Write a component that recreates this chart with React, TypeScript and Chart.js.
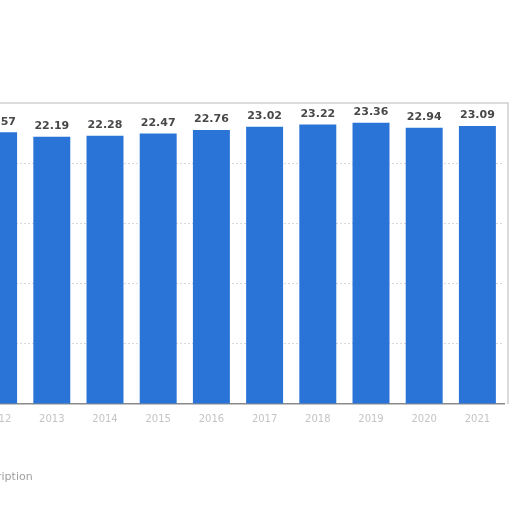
import React, { useEffect, useRef } from "react";
import Chart from "chart.js/auto";

const years = ["2012", "2013", "2014", "2015", "2016", "2017", "2018", "2019", "2020", "2021"];
const values = [22.57, 22.19, 22.28, 22.47, 22.76, 23.02, 23.22, 23.36, 22.94, 23.09];
const yTicks = [0, 5, 10, 15, 20, 25];

const labelPlugin = {
  id: "barLabels",
  afterDatasetsDraw(chart: any) {
    const ctx = chart.ctx;
    const meta = chart.getDatasetMeta(0);
    ctx.save();
    ctx.font = "bold 11px 'DejaVu Sans', Arial, sans-serif";
    ctx.fillStyle = "#484848";
    ctx.textAlign = "center";
    ctx.textBaseline = "bottom";
    meta.data.forEach((bar: any, i: number) => {
      ctx.fillText(values[i].toFixed(2), bar.x, bar.y - 5);
    });
    ctx.restore();
  },
};

const framePlugin = {
  id: "frame",
  beforeDatasetsDraw(chart: any) {
    const { ctx, chartArea } = chart;
    ctx.save();
    ctx.strokeStyle = "#cfcfcf";
    ctx.lineWidth = 1.5;
    ctx.beginPath();
    ctx.moveTo(chartArea.left, chartArea.top);
    ctx.lineTo(chartArea.right + 4, chartArea.top);
    ctx.lineTo(chartArea.right + 4, chartArea.bottom);
    ctx.stroke();
    ctx.restore();
  },
};

export default function App() {
  const ref = useRef<HTMLCanvasElement | null>(null);
  useEffect(() => {
    document.body.style.margin = "0";
    const chart = new Chart(ref.current as HTMLCanvasElement, {
      type: "bar",
      data: {
        labels: years,
        datasets: [
          {
            data: values,
            backgroundColor: "#2a74d8",
            categoryPercentage: 1,
            barPercentage: 0.695,
          },
        ],
      },
      options: {
        animation: false,
        responsive: true,
        maintainAspectRatio: false,
        layout: { padding: { top: 103, left: 0, right: 8, bottom: 0 } },
        plugins: { legend: { display: false }, tooltip: { enabled: false } },
        scales: {
          x: {
            grid: { display: false },
            border: { color: "#8a8a8a", width: 1.5 },
            ticks: {
              color: "#c4c4c4",
              font: { size: 10, family: "'DejaVu Sans', Arial, sans-serif" },
              padding: 1,
              maxRotation: 0,
            },
            afterFit(scale: any) {
              scale.height = 108;
            },
          },
          y: {
            min: yTicks[0],
            max: yTicks[yTicks.length - 1],
            afterBuildTicks(scale: any) {
              scale.ticks = yTicks.map((v) => ({ value: v }));
            },
            ticks: { display: false },
            grid: {
              color: (c: any) => (c.tick && (c.tick.value === 0 || c.tick.value === 25) ? "rgba(0,0,0,0)" : "#d8d8d8"),
              drawTicks: false,
            },
            border: { display: false, dash: [2, 2] },
            afterFit(scale: any) {
              scale.width = 0;
            },
          },
        },
      },
      plugins: [framePlugin, labelPlugin],
    });
    return () => chart.destroy();
  }, []);
  return (
    <div style={{ position: "fixed", top: 0, left: 0, width: 512, height: 512, overflow: "hidden", background: "#fff" }}>
      <div style={{ position: "absolute", top: 0, left: -28, width: 540, height: 512 }}>
        <canvas ref={ref} />
      </div>
      <div
        style={{
          position: "absolute",
          top: 470,
          left: -30,
          fontFamily: "'DejaVu Sans', Arial, sans-serif",
          fontSize: 11,
          color: "#a0a0a0",
          filter: "blur(0.6px)",
        }}
      >
        Description
      </div>
    </div>
  );
}
